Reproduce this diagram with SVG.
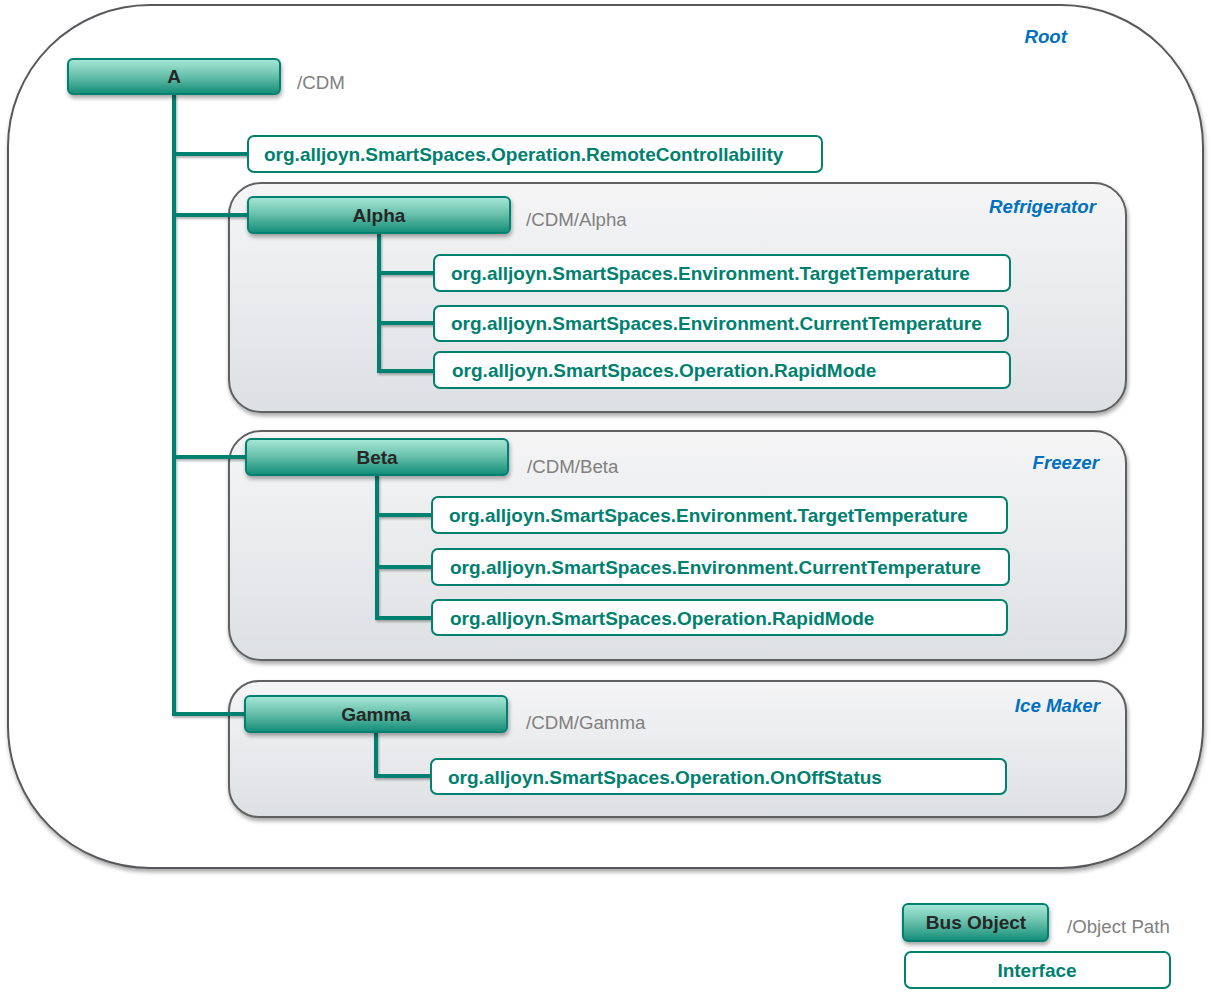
<svg xmlns="http://www.w3.org/2000/svg" width="1211" height="992" viewBox="0 0 1211 992">
<defs>
<linearGradient id="busGrad" x1="0" y1="0" x2="0" y2="1">
<stop offset="0" stop-color="#A9E8D8"/>
<stop offset="0.45" stop-color="#6CC3AE"/>
<stop offset="1" stop-color="#138C77"/>
</linearGradient>
<linearGradient id="grpGrad" x1="0" y1="0" x2="0" y2="1">
<stop offset="0" stop-color="#F5F5F6"/>
<stop offset="1" stop-color="#DDE0E3"/>
</linearGradient>
<filter id="shadow" x="-10%" y="-20%" width="120%" height="150%">
<feGaussianBlur in="SourceAlpha" stdDeviation="2"/>
<feOffset dx="1" dy="3" result="b"/>
<feComponentTransfer><feFuncA type="linear" slope="0.35"/></feComponentTransfer>
<feMerge><feMergeNode/><feMergeNode in="SourceGraphic"/></feMerge>
</filter>
<filter id="lshadow" x="-5%" y="-5%" width="110%" height="110%">
<feGaussianBlur in="SourceAlpha" stdDeviation="1"/>
<feOffset dx="1" dy="1.5" result="b"/>
<feComponentTransfer><feFuncA type="linear" slope="0.3"/></feComponentTransfer>
<feMerge><feMergeNode/><feMergeNode in="SourceGraphic"/></feMerge>
</filter>
</defs>
<style>
text{font-family:"Liberation Sans",Arial,sans-serif;font-size:18.7px}
.root{fill:#FFFFFF;stroke:#58595B;stroke-width:2}
.grp{fill:url(#grpGrad);stroke:#5E6062;stroke-width:2}
.bus{fill:url(#busGrad);stroke:#00806F;stroke-width:2}
.ifc{fill:#FFFFFF;stroke:#00806F;stroke-width:2}
.busT{font-weight:bold;fill:#262626;text-anchor:middle;font-size:19px}
.ifcT{font-weight:bold;fill:#00806F;font-size:19px}
.path{fill:#808080}
.lbl{font-weight:bold;font-style:italic;fill:#0070C0;text-anchor:end}
.conn{fill:none;stroke:#00806F;stroke-width:4}
</style>

<g id="root">
<rect class="root" x="8" y="5" width="1195" height="863" rx="142" ry="142" filter="url(#shadow)"/>
<text class="lbl" x="1067" y="43">Root</text>
</g>

<g id="group-refrigerator">
<rect class="grp" x="229" y="183" width="897" height="229" rx="32" ry="32" filter="url(#shadow)"/>
<text class="lbl" x="1096" y="213">Refrigerator</text>
</g>
<g id="group-freezer">
<rect class="grp" x="229" y="431" width="897" height="229" rx="32" ry="32" filter="url(#shadow)"/>
<text class="lbl" x="1099" y="469">Freezer</text>
</g>
<g id="group-icemaker">
<rect class="grp" x="229" y="681" width="897" height="136" rx="30" ry="30" filter="url(#shadow)"/>
<text class="lbl" x="1100" y="712">Ice Maker</text>
</g>

<g id="connectors" filter="url(#lshadow)">
<path class="conn" d="M174,94 V714 H246"/>
<path class="conn" d="M174,154 H249"/>
<path class="conn" d="M174,215 H249"/>
<path class="conn" d="M174,457 H247"/>
<path class="conn" d="M379,233 V371 H435"/>
<path class="conn" d="M379,273 H435"/>
<path class="conn" d="M379,323 H435"/>
<path class="conn" d="M377,475 V618 H433"/>
<path class="conn" d="M377,515 H433"/>
<path class="conn" d="M377,567 H433"/>
<path class="conn" d="M376,732 V776 H432"/>
</g>

<g id="node-A">
<rect class="bus" x="68" y="59" width="212" height="35" rx="5" filter="url(#shadow)"/>
<text class="busT" x="174" y="83">A</text>
<text class="path" x="297" y="89">/CDM</text>
</g>
<g id="node-remote">
<rect class="ifc" x="248" y="136" width="574" height="36" rx="6"/>
<text class="ifcT" x="264" y="161">org.alljoyn.SmartSpaces.Operation.RemoteControllability</text>
</g>

<g id="node-alpha">
<rect class="bus" x="248" y="197" width="262" height="36" rx="5" filter="url(#shadow)"/>
<text class="busT" x="379" y="222">Alpha</text>
<text class="path" x="526" y="226">/CDM/Alpha</text>
</g>
<g id="node-alpha-target">
<rect class="ifc" x="434" y="255" width="576" height="36" rx="6"/>
<text class="ifcT" x="451" y="280">org.alljoyn.SmartSpaces.Environment.TargetTemperature</text>
</g>
<g id="node-alpha-current">
<rect class="ifc" x="434" y="306" width="574" height="35" rx="6"/>
<text class="ifcT" x="451" y="330">org.alljoyn.SmartSpaces.Environment.CurrentTemperature</text>
</g>
<g id="node-alpha-rapid">
<rect class="ifc" x="434" y="352" width="576" height="36" rx="6"/>
<text class="ifcT" x="452" y="377">org.alljoyn.SmartSpaces.Operation.RapidMode</text>
</g>

<g id="node-beta">
<rect class="bus" x="246" y="439" width="262" height="36" rx="5" filter="url(#shadow)"/>
<text class="busT" x="377" y="464">Beta</text>
<text class="path" x="527" y="473">/CDM/Beta</text>
</g>
<g id="node-beta-target">
<rect class="ifc" x="432" y="497" width="575" height="36" rx="6"/>
<text class="ifcT" x="449" y="522">org.alljoyn.SmartSpaces.Environment.TargetTemperature</text>
</g>
<g id="node-beta-current">
<rect class="ifc" x="432" y="549" width="577" height="36" rx="6"/>
<text class="ifcT" x="450" y="574">org.alljoyn.SmartSpaces.Environment.CurrentTemperature</text>
</g>
<g id="node-beta-rapid">
<rect class="ifc" x="432" y="600" width="575" height="35" rx="6"/>
<text class="ifcT" x="450" y="625">org.alljoyn.SmartSpaces.Operation.RapidMode</text>
</g>

<g id="node-gamma">
<rect class="bus" x="245" y="696" width="262" height="36" rx="5" filter="url(#shadow)"/>
<text class="busT" x="376" y="721">Gamma</text>
<text class="path" x="526" y="729">/CDM/Gamma</text>
</g>
<g id="node-gamma-onoff">
<rect class="ifc" x="431" y="759" width="575" height="35" rx="6"/>
<text class="ifcT" x="448" y="784">org.alljoyn.SmartSpaces.Operation.OnOffStatus</text>
</g>

<g id="legend-bus">
<rect class="bus" x="903" y="904" width="145" height="37" rx="5" filter="url(#shadow)"/>
<text class="busT" x="976" y="929">Bus Object</text>
<text class="path" x="1067" y="933">/Object Path</text>
</g>
<g id="legend-interface">
<rect class="ifc" x="905" y="952" width="265" height="36" rx="6"/>
<text class="ifcT" x="1037" y="977" text-anchor="middle">Interface</text>
</g>
</svg>
